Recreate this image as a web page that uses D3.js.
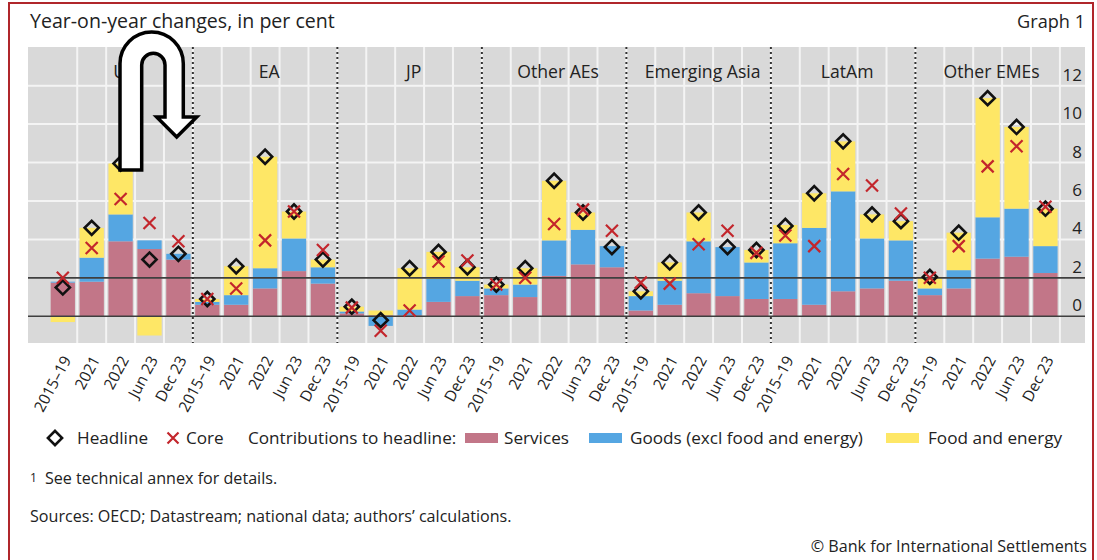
<!DOCTYPE html>
<html>
<head>
<meta charset="utf-8">
<script src="https://cdn.jsdelivr.net/npm/d3@7"></script>
<style>
  html, body { margin: 0; padding: 0; background: #ffffff; }
  svg { display: block; font-family: "Open Sans", "Noto Sans", sans-serif; }
</style>
</head>
<body>
<svg id="chart" width="1097" height="560"></svg>
<script>
// ---------------- DATA ----------------
const categories = ["US", "EA", "JP", "Other AEs", "Emerging Asia", "LatAm", "Other EMEs"];
const periods = ["2015–19", "2021", "2022", "Jun 23", "Dec 23"];

// Contributions to headline (percentage points), 5 periods per region
const services = [
  1.75, 1.8, 3.9, 3.5, 2.95,     // US
  0.6, 0.6, 1.45, 2.35, 1.7,     // EA
  0.15, 0.05, 0.05, 0.75, 1.05,  // JP
  1.1, 1.0, 2.1, 2.7, 2.55,      // Other AEs
  0.3, 0.6, 1.2, 1.05, 0.9,      // Emerging Asia
  0.9, 0.6, 1.3, 1.45, 1.85,     // LatAm
  1.1, 1.45, 3.0, 3.1, 2.25      // Other EMEs
];
const goods = [
  0.05, 1.25, 1.4, 0.45, 0.3,
  0.15, 0.5, 1.05, 1.7, 0.85,
  0.1, -0.5, 0.3, 1.2, 0.8,
  0.35, 0.65, 1.85, 1.8, 1.1,
  0.75, 1.25, 2.7, 2.55, 1.9,
  2.9, 4.0, 5.2, 2.6, 2.1,
  0.35, 0.95, 2.15, 2.5, 1.4
];
const foodEnergy = [
  -0.3, 1.55, 2.65, -1.0, 0.0,
  0.15, 1.5, 5.8, 1.4, 0.4,
  0.25, 0.25, 2.15, 1.4, 0.7,
  0.2, 0.85, 3.1, 0.9, 0.0,
  0.25, 0.95, 1.5, 0.0, 0.65,
  0.95, 1.8, 2.6, 1.25, 1.0,
  0.6, 1.95, 6.2, 4.25, 1.95
];
const headline = [
  1.5, 4.6, 7.95, 2.95, 3.25,
  0.9, 2.6, 8.3, 5.45, 2.95,
  0.5, -0.2, 2.5, 3.35, 2.55,
  1.65, 2.5, 7.05, 5.4, 3.6,
  1.3, 2.8, 5.4, 3.6, 3.45,
  4.7, 6.4, 9.1, 5.3, 4.95,
  2.05, 4.35, 11.35, 9.85, 5.6
];
const core = [
  2.0, 3.55, 6.1, 4.85, 3.9,
  0.9, 1.45, 3.95, 5.45, 3.45,
  0.45, -0.75, 0.3, 2.85, 2.9,
  1.65, 2.0, 4.8, 5.55, 4.45,
  1.75, 1.7, 3.75, 4.45, 3.3,
  4.2, 3.65, 7.4, 6.8, 5.35,
  2.0, 3.65, 7.8, 8.85, 5.7
];
const yTicks = [0, 2, 4, 6, 8, 10, 12];
const seriesNames = ["Services", "Goods (excl food and energy)", "Food and energy"];
const seriesColors = ["#C27688", "#55A6E2", "#FEE766"];

// ---------------- BUILD ----------------
const rows = [];
categories.forEach((c, gi) => periods.forEach((p, pi) => {
  const i = gi * periods.length + pi;
  rows.push({ id: c + "|" + p, cat: c, period: p,
    s0: services[i], s1: goods[i], s2: foodEnergy[i],
    headline: headline[i], core: core[i] });
}));

const svg = d3.select("#chart");
const textColor = "#222";

// frame
svg.append("rect").attr("x", 9).attr("y", 3).attr("width", 1084).attr("height", 620)
  .attr("fill", "none").attr("stroke", "#B0262B").attr("stroke-width", 2);

const plot = { left: 28, right: 1085, top: 47, bottom: 343 };
const x = d3.scaleBand().domain(rows.map(d => d.id)).range([48.35, 1059.9])
  .paddingInner(0.16).paddingOuter(0.08);
const y = d3.scaleLinear().domain([-1.39, 14.01]).range([plot.bottom, plot.top]);

// background
svg.append("rect").attr("x", plot.left).attr("y", plot.top)
  .attr("width", plot.right - plot.left).attr("height", plot.bottom - plot.top)
  .attr("fill", "#D9D9D9");

// horizontal white gridlines
svg.append("g").selectAll("line").data(yTicks.filter(t => t > 2)).join("line")
  .attr("x1", plot.left).attr("x2", plot.right)
  .attr("y1", d => y(d)).attr("y2", d => y(d))
  .attr("stroke", "#F4F4F4").attr("stroke-width", 2);

// vertical white gridlines at band boundaries
const step = x.step();
const boundaries = rows.map(d => x(d.id) + x.bandwidth() + step * x.paddingInner() / 2);
svg.append("g").selectAll("line").data(boundaries).join("line")
  .attr("x1", d => d).attr("x2", d => d).attr("y1", plot.top).attr("y2", plot.bottom)
  .attr("stroke", "#F4F4F4").attr("stroke-width", 2);

// stacked bars
const stack = d3.stack().keys(["s0", "s1", "s2"]).offset(d3.stackOffsetDiverging);
const stacked = stack(rows);
svg.append("g").selectAll("g").data(stacked).join("g")
  .attr("fill", (d, i) => seriesColors[i])
  .selectAll("rect").data(d => d).join("rect")
  .attr("x", d => x(d.data.id))
  .attr("width", x.bandwidth())
  .attr("y", d => y(Math.max(d[0], d[1])))
  .attr("height", d => Math.abs(y(d[0]) - y(d[1])));

// reference lines at 0 and 2
svg.append("g").selectAll("line").data([0, 2]).join("line")
  .attr("x1", plot.left).attr("x2", plot.right)
  .attr("y1", d => y(d)).attr("y2", d => y(d))
  .attr("stroke", "#3f3f3f").attr("stroke-width", 1.6);

// group separators (dotted)
const sepIdx = d3.range(1, categories.length).map(k => k * periods.length - 1);
svg.append("g").selectAll("line").data(sepIdx).join("line")
  .attr("x1", i => boundaries[i]).attr("x2", i => boundaries[i])
  .attr("y1", plot.top).attr("y2", plot.bottom)
  .attr("stroke", "#333").attr("stroke-width", 2).attr("stroke-dasharray", "2,3");

// headline diamonds
const diamond = d3.symbol(d3.symbolSquare, 100);
svg.append("g").selectAll("path").data(rows).join("path")
  .attr("d", diamond)
  .attr("transform", d => `translate(${x(d.id) + x.bandwidth() / 2},${y(d.headline)}) rotate(45)`)
  .attr("fill", "none").attr("stroke", "#111").attr("stroke-width", 2.6);

// core crosses
const cross = r => `M${-r},${-r}L${r},${r}M${-r},${r}L${r},${-r}`;
svg.append("g").selectAll("path").data(rows).join("path")
  .attr("d", cross(6))
  .attr("transform", d => `translate(${x(d.id) + x.bandwidth() / 2},${y(d.core)})`)
  .attr("fill", "none").attr("stroke", "#C3262C").attr("stroke-width", 2.2);

// y tick labels (right, inside)
svg.append("g").selectAll("text").data(yTicks).join("text")
  .attr("x", 1082).attr("y", d => y(d) - 5)
  .attr("text-anchor", "end").attr("font-size", 17).attr("fill", textColor)
  .text(d => d);

// x tick labels
svg.append("g").selectAll("text").data(rows).join("text")
  .attr("transform", d => `translate(${x(d.id) + x.bandwidth() / 2 + 4},357) rotate(-62)`)
  .attr("text-anchor", "end").attr("dy", "0.35em")
  .attr("font-size", 15.5).attr("fill", textColor)
  .text(d => d.period);

// helper to fit font size to a measured width
function fitWidth(sel, w) {
  const n = sel.node();
  const L = n.getComputedTextLength();
  const fs = parseFloat(sel.attr("font-size"));
  const nf = fs * w / L;
  sel.attr("font-size", nf);
  return nf;
}

// group labels
const gl = svg.append("g");
const probe = gl.append("text").attr("font-size", 18).text("Emerging Asia");
const gfs = fitWidth(probe, 116);
probe.remove();
gl.selectAll("text").data(categories).join("text")
  .attr("x", c => (x(c + "|" + periods[0]) + x(c + "|" + periods[periods.length - 1]) + x.bandwidth()) / 2 + 4)
  .attr("y", 78).attr("text-anchor", "middle").attr("font-size", gfs)
  .attr("fill", textColor).text(c => c);

// title
const title = svg.append("text").attr("x", 30).attr("y", 27.5).attr("font-size", 17.5)
  .attr("fill", textColor).text("Year-on-year changes, in per cent");
fitWidth(title, 305);
const g1 = svg.append("text").attr("x", 1085).attr("y", 27.5).attr("font-size", 17.5)
  .attr("text-anchor", "end").attr("fill", textColor).text("Graph 1");
fitWidth(g1, 68);

// arrow annotation
svg.append("path")
  .attr("d", "M120,170 L120,63.6 A31.65,31.65 0 0 1 183.3,63.6 L183.3,117 L196.7,117 L176.7,137 L156.7,117 L165,117 L165,65 A11.65,11.65 0 0 0 141.7,65 L141.7,170 Z")
  .attr("fill", "#fff").attr("stroke", "#000").attr("stroke-width", 3.5).attr("stroke-linejoin", "miter");

// legend
const ly = 438;
const leg = svg.append("g").attr("fill", textColor);
const lp = leg.append("text").attr("font-size", 17).text("Goods (excl food and energy)");
const lfs = fitWidth(lp, 233);
lp.remove();
leg.append("path").attr("d", diamond).attr("transform", `translate(55,${ly}) rotate(45)`)
  .attr("fill", "none").attr("stroke", "#111").attr("stroke-width", 2.6);
leg.append("path").attr("d", cross(5.5)).attr("transform", `translate(173,${ly})`)
  .attr("fill", "none").attr("stroke", "#C3262C").attr("stroke-width", 2.2);
const legTexts = [
  { x: 77, t: "Headline" }, { x: 186, t: "Core" }, { x: 248, t: "Contributions to headline:" },
  { x: 504, t: seriesNames[0] }, { x: 630, t: seriesNames[1] }, { x: 928, t: seriesNames[2] }
];
leg.selectAll("text.lt").data(legTexts).join("text").attr("class", "lt")
  .attr("x", d => d.x).attr("y", ly).attr("dy", "0.35em").attr("font-size", lfs).text(d => d.t);
const swX = [465, 589, 886];
leg.selectAll("rect").data(seriesColors).join("rect")
  .attr("x", (d, i) => swX[i]).attr("y", ly - 5).attr("width", 33).attr("height", 10)
  .attr("fill", d => d);

// footnotes
const fn = svg.append("g").attr("fill", textColor);
const src = fn.append("text").attr("x", 30).attr("y", 522).attr("font-size", 15)
  .text("Sources: OECD; Datastream; national data; authors’ calculations.");
const ffs = fitWidth(src, 482);
const sup = fn.append("text").attr("x", 30).attr("y", 484).attr("font-size", ffs);
sup.append("tspan").attr("font-size", ffs * 0.75).attr("dy", -2).text("1");
sup.append("tspan").attr("dx", 8).attr("dy", 2).text("See technical annex for details.");
fn.append("text").attr("x", 1087).attr("y", 552).attr("font-size", ffs)
  .attr("text-anchor", "end").text("© Bank for International Settlements");
</script>
</body>
</html>
